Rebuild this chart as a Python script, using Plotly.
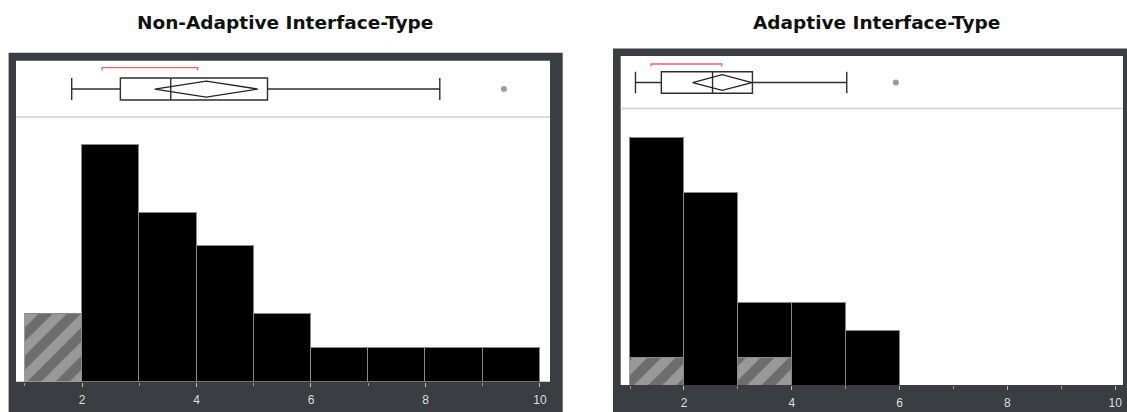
import plotly.graph_objects as go

W, H = 1127, 412

# ---------------- data ----------------
BIN_EDGES = [1, 2, 3, 4, 5, 6, 7, 8, 9, 10]
NA_SOLID = [0, 7, 5, 4, 2, 1, 1, 1, 1]
NA_HATCH = [2, 0, 0, 0, 0, 0, 0, 0, 0]
AD_SOLID = [8, 7, 2, 3, 2, 0, 0, 0, 0]
AD_HATCH = [1, 0, 1, 0, 0, 0, 0, 0, 0]

# lower whisker, Q1, median, Q3, upper whisker
NA_STATS = [1.82, 2.67, 3.55, 5.24, 8.25]
AD_STATS = [1.10, 1.58, 2.53, 3.27, 5.02]
NA_OUTLIERS = [9.37]
AD_OUTLIERS = [5.93]
NA_MEAN, NA_CI = 4.17, 0.90
AD_MEAN, AD_CI = 2.71, 0.55
NA_SHORTEST = [2.35, 4.02]
AD_SHORTEST = [1.39, 2.70]

TITLES = ["Non-Adaptive Interface-Type", "Adaptive Interface-Type"]
TICK_VALS = [2, 4, 6, 8, 10]

CENTERS = [(a + b) / 2 for a, b in zip(BIN_EDGES[:-1], BIN_EDGES[1:])]


def px(x):
    return x / W


def py(y):
    return 1 - y / H


FRAME = "#3a3d41"
fig = go.Figure()

panels = [
    dict(solid=NA_SOLID, hatch=NA_HATCH, stats=NA_STATS, out=NA_OUTLIERS,
         mean=NA_MEAN, ci=NA_CI, short=NA_SHORTEST, xa="x", ya="y", xb="x2", yb="y2",
         boxc=0.49, boxw=0.40, diah=0.145, brk=0.878),
    dict(solid=AD_SOLID, hatch=AD_HATCH, stats=AD_STATS, out=AD_OUTLIERS,
         mean=AD_MEAN, ci=AD_CI, short=AD_SHORTEST, xa="x3", ya="y3", xb="x4", yb="y4",
         boxc=0.49, boxw=0.415, diah=0.15, brk=0.846),
]

for p in panels:
    fig.add_trace(go.Bar(
        x=CENTERS, y=p["hatch"], width=1, xaxis=p["xa"], yaxis=p["ya"],
        marker=dict(color="#999999",
                    pattern=dict(shape="/", size=20, solidity=0.5,
                                 fgcolor="#424242", bgcolor="#999999",
                                 fillmode="overlay"),
                    line=dict(color="#9a9a9a", width=1)),
        showlegend=False, hoverinfo="skip"))
    fig.add_trace(go.Bar(
        x=CENTERS, y=p["solid"], width=1, xaxis=p["xa"], yaxis=p["ya"],
        marker=dict(color="#000000", line=dict(color="#8a8a8a", width=1)),
        showlegend=False, hoverinfo="skip"))
    lo, q1, med, q3, hi = p["stats"]
    fig.add_trace(go.Box(
        y=[p["boxc"]], lowerfence=[lo], q1=[q1], median=[med], q3=[q3], upperfence=[hi],
        orientation="h", width=p["boxw"], whiskerwidth=1,
        line=dict(color="#2e2e2e", width=1.4), fillcolor="rgba(0,0,0,0)",
        boxpoints=False, xaxis=p["xb"], yaxis=p["yb"],
        showlegend=False, hoverinfo="skip"))
    m, c, yc, h = p["mean"], p["ci"], p["boxc"], p["diah"]
    fig.add_trace(go.Scatter(
        x=[m - c, m, m + c, m, m - c], y=[yc, yc + h, yc, yc - h, yc],
        mode="lines", line=dict(color="#222222", width=1.3),
        xaxis=p["xb"], yaxis=p["yb"], showlegend=False, hoverinfo="skip"))
    fig.add_trace(go.Scatter(
        x=p["out"], y=[yc] * len(p["out"]), mode="markers",
        marker=dict(color="#9a9a9a", size=6),
        xaxis=p["xb"], yaxis=p["yb"], showlegend=False, hoverinfo="skip"))
    s0, s1 = p["short"]
    b = p["brk"]
    fig.add_trace(go.Scatter(
        x=[s0, s0, s1, s1], y=[b - 0.05, b, b, b - 0.05], mode="lines",
        line=dict(color="#f2606e", width=1.3),
        xaxis=p["xb"], yaxis=p["yb"], showlegend=False, hoverinfo="skip"))

# ------------- layout -------------
tickfont = dict(family="Liberation Sans", size=12, color="#dedede")


def hist_x(domain, rng):
    return dict(domain=domain, range=rng, tickvals=TICK_VALS, ticks="outside",
                ticklen=4, tickcolor="#bbbbbb", tickwidth=1, tickfont=tickfont,
                ticklabelstandoff=3, showgrid=False, zeroline=False, showline=False,
                minor=dict(dtick=1, tick0=0, ticks="outside", ticklen=3,
                           tickcolor="#999999", showgrid=False))


def hidden(domain, rng, anchor):
    return dict(domain=domain, range=rng, visible=False, showgrid=False,
                zeroline=False, anchor=anchor)


L_X = [px(16), px(550)]
L_RNG = [0.847, 10.175]
R_X = [px(620.7), px(1123)]
R_RNG = [0.826, 10.145]

fig.update_layout(
    width=W, height=H, margin=dict(l=0, r=0, t=0, b=0),
    paper_bgcolor="white", plot_bgcolor="white", barmode="stack", bargap=0,
    xaxis=hist_x(L_X, L_RNG) | dict(anchor="y"),
    yaxis=dict(domain=[py(381.7), py(117)], range=[0, 7.83], visible=False,
               showgrid=False, zeroline=False, anchor="x"),
    xaxis2=hidden(L_X, L_RNG, "y2"),
    yaxis2=hidden([py(116), py(61)], [0, 1], "x2"),
    xaxis3=hist_x(R_X, R_RNG) | dict(anchor="y3"),
    yaxis3=dict(domain=[py(385), py(108.5)], range=[0, 10.07], visible=False,
                showgrid=False, zeroline=False, anchor="x3"),
    xaxis4=hidden(R_X, R_RNG, "y4"),
    yaxis4=hidden([py(108), py(56)], [0, 1], "x4"),
)

shapes = []
# dark frames
shapes.append(dict(type="rect", xref="paper", yref="paper", x0=px(8.6), x1=px(562.7),
                   y0=py(415), y1=py(52.7), fillcolor=FRAME, line=dict(width=0), layer="below"))
shapes.append(dict(type="rect", xref="paper", yref="paper", x0=px(613), x1=px(1130),
                   y0=py(415), y1=py(48.5), fillcolor=FRAME, line=dict(width=0), layer="below"))
# white inner areas
shapes.append(dict(type="rect", xref="paper", yref="paper", x0=px(16), x1=px(550),
                   y0=py(381.7), y1=py(60.7), fillcolor="white", line=dict(width=0), layer="below"))
shapes.append(dict(type="rect", xref="paper", yref="paper", x0=px(620.7), x1=px(1123),
                   y0=py(385), y1=py(56), fillcolor="white", line=dict(width=0), layer="below"))
# separators
shapes.append(dict(type="line", xref="paper", yref="paper", x0=px(16), x1=px(550),
                   y0=py(117), y1=py(117), line=dict(color="#cfcfcf", width=1.5), layer="below"))
shapes.append(dict(type="line", xref="paper", yref="paper", x0=px(620.7), x1=px(1123),
                   y0=py(108.5), y1=py(108.5), line=dict(color="#cfcfcf", width=1.5), layer="below"))
fig.update_layout(shapes=shapes)

title_font = dict(family="DejaVu Sans", size=18.5, color="#111111")
fig.add_annotation(text="<b>" + TITLES[0] + "</b>", x=px(285), y=py(23), xref="paper",
                   yref="paper", showarrow=False, font=title_font, xanchor="center", yanchor="middle")
fig.add_annotation(text="<b>" + TITLES[1] + "</b>", x=px(876), y=py(23), xref="paper",
                   yref="paper", showarrow=False, font=title_font, xanchor="center", yanchor="middle")

fig.write_html("out.html", config={"displayModeBar": False},
               post_script="document.body.style.margin='0';document.body.style.overflow='hidden';")
